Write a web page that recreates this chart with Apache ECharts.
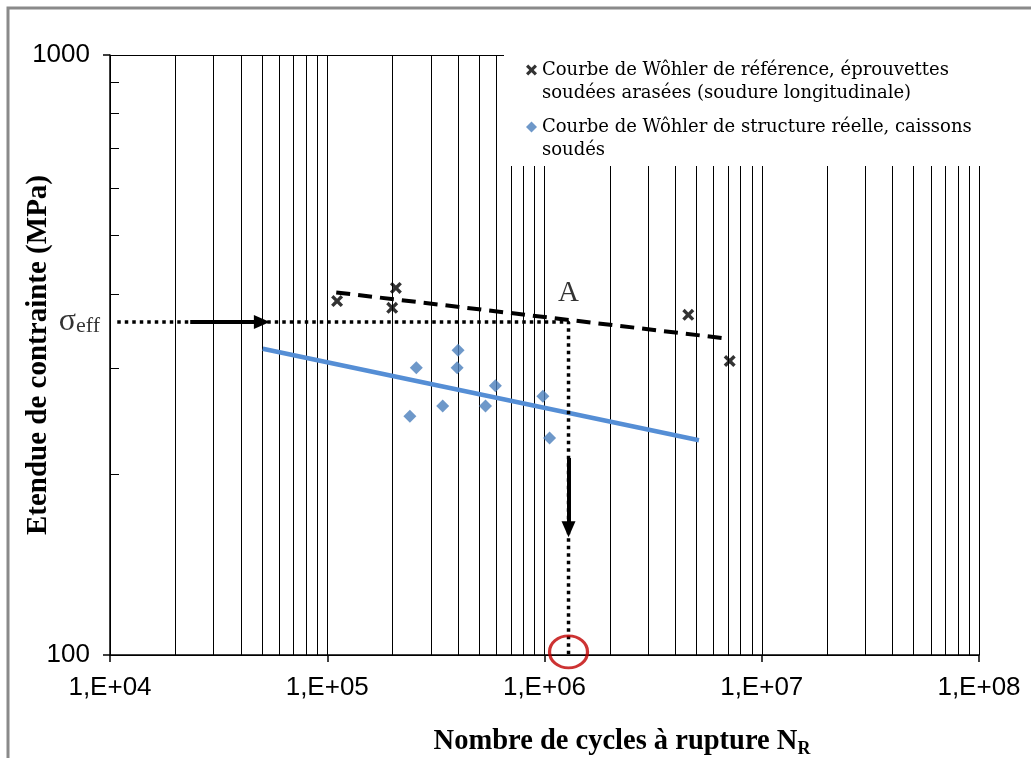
<!DOCTYPE html>
<html><head><meta charset="utf-8">
<script src="https://cdn.jsdelivr.net/npm/echarts@6/dist/echarts.min.js"></script>
<style>html,body{margin:0;padding:0;background:#fff}#c{width:1031px;height:758px}</style>
</head><body><div id="c"></div>
<script>
// ---- data ----
const refLabel = 'Courbe de Wôhler de référence, éprouvettes\nsoudées arasées (soudure longitudinale)';
const realLabel = 'Courbe de Wôhler de structure réelle, caissons\nsoudés';
const refN = [1.11e5, 2.07e5, 1.99e5, 4.59e6, 7.12e6];
const refS = [389, 409, 379, 369, 309];
const refFitN = [1.10e5, 6.82e6];
const refFitS = [402, 337];
const realN = [2.57e5, 4.0e5, 3.96e5, 5.94e5, 9.83e5, 3.40e5, 5.35e5, 2.40e5, 1.055e6];
const realS = [301, 322, 301, 281, 270, 260, 260, 250, 230];
const realFitN = [5.05e4, 5.14e6];
const realFitS = [324, 228];
const sigmaEff = 359;
const pointAN = 1.29e6;
const dottedStartN = 1.08e4;
const arrowHN = [2.34e4, 5.0e4];
const arrowVS = [213, 162];
const circleS = 101.2;
const xMin = 1e4, xMax = 1e8, yMin = 100, yMax = 1000;

const zip = (a, b) => a.map((v, i) => [v, b[i]]);
const serif = 'Liberation Serif';
const sans = 'Liberation Sans';
const xSymbol = 'path://M0,2 L2,0 L5,3 L8,0 L10,2 L7,5 L10,8 L8,10 L5,7 L2,10 L0,8 L3,5 Z';

const chart = echarts.init(document.getElementById('c'), null, {renderer: 'canvas'});
const legendText = {fontFamily: 'DejaVu Serif', fontSize: 18, lineHeight: 23, color: '#000'};
const legendFmt = name => '\n' + name;

const option = {
  animation: false,
  backgroundColor: '#fff',
  grid: {left: 110, right: 52, top: 55, bottom: 103, containLabel: false, outerBoundsMode: 'none'},
  legend: [
    {data: [{name: refLabel, icon: xSymbol}], left: 526, top: 35.5, padding: 0, itemWidth: 11, itemHeight: 11,
     selectedMode: false, textStyle: legendText, formatter: legendFmt, z: 20},
    {data: [{name: realLabel, icon: 'diamond'}], left: 526, top: 92.5, padding: 0, itemWidth: 11, itemHeight: 11,
     selectedMode: false, textStyle: legendText, formatter: legendFmt, z: 20}
  ],
  graphic: [
    {type: 'rect', shape: {x: 504, y: 20, width: 527, height: 146}, style: {fill: '#fff'}, z: 10, silent: true},
    {type: 'polyline', shape: {points: [[8, 758], [8, 8], [1031, 8]]}, style: {stroke: '#8a8a8a', lineWidth: 3, fill: null}, z: 10, silent: true}
  ],
  xAxis: {
    type: 'log', logBase: 10, min: xMin, max: xMax,
    name: '{a|Nombre de cycles à rupture N}{b|R}', nameLocation: 'middle', nameGap: 71, nameMoveOverlap: false,
    nameTextStyle: {padding: [0, 0, 0, 155], rich: {
      a: {fontFamily: serif, fontWeight: 'bold', fontSize: 28.5, color: '#000'},
      b: {fontFamily: serif, fontWeight: 'bold', fontSize: 18, color: '#000', padding: [14, 0, 0, 0]}}},
    axisLine: {show: true, onZero: false, lineStyle: {color: '#000', width: 1.5}},
    axisTick: {show: true, length: 7, lineStyle: {color: '#000', width: 1.5}},
    axisLabel: {fontFamily: sans, fontSize: 26, color: '#000', margin: 20,
      formatter: v => '1,E+' + String(Math.round(Math.log10(v))).padStart(2, '0')},
    splitLine: {show: true, lineStyle: {color: '#000', width: 1}},
    minorTick: {show: false, splitNumber: 9},
    minorSplitLine: {show: true, lineStyle: {color: '#000', width: 1}}
  },
  yAxis: {
    type: 'log', logBase: 10, min: yMin, max: yMax,
    name: 'Etendue de contrainte (MPa)', nameLocation: 'middle', nameGap: 45, nameMoveOverlap: false,
    nameTextStyle: {fontFamily: serif, fontWeight: 'bold', fontSize: 29, color: '#000', padding: [0, 0, 12, 0]},
    axisLine: {show: true, onZero: false, lineStyle: {color: '#000', width: 1.5}},
    axisTick: {show: true, length: 7, lineStyle: {color: '#000', width: 1.5}},
    minorTick: {show: true, splitNumber: 9, length: -9, lineStyle: {color: '#000', width: 1}},
    axisLabel: {fontFamily: sans, fontSize: 26, color: '#000', margin: 20, formatter: v => String(Math.round(v))},
    splitLine: {show: true, lineStyle: {color: '#000', width: 1}},
    minorSplitLine: {show: false}
  },
  series: [
    {name: 'refFit', type: 'line', data: zip(refFitN, refFitS), symbol: 'none', z: 4,
     lineStyle: {color: '#000', width: 4, type: [14, 8]}},
    {name: 'realFit', type: 'line', data: zip(realFitN, realFitS), symbol: 'none', z: 4,
     lineStyle: {color: '#558ed5', width: 4.5}},
    {name: refLabel, type: 'scatter', data: zip(refN, refS), symbol: xSymbol, symbolSize: 12, z: 6,
     itemStyle: {color: '#000'}},
    {name: realLabel, type: 'scatter', data: zip(realN, realS), symbol: 'diamond', symbolSize: 13, z: 6,
     itemStyle: {color: '#4a7ebb'}},
    {name: 'guide', type: 'line', symbol: 'none', z: 5, silent: true,
     data: [[dottedStartN, sigmaEff], [pointAN, sigmaEff], [pointAN, yMin]],
     lineStyle: {color: '#000', width: 3.5, type: [3.5, 4]},
     markLine: {silent: true, symbol: ['none', 'triangle'], symbolSize: [14, 16], animation: false,
       label: {show: false}, lineStyle: {color: '#000', width: 4, type: 'solid'},
       data: [
         [{coord: [arrowHN[0], sigmaEff]}, {coord: [arrowHN[1], sigmaEff]}],
         [{coord: [pointAN, arrowVS[0]]}, {coord: [pointAN, arrowVS[1]]}]
       ]}},
    {name: 'labels', type: 'scatter', symbolSize: 0, clip: false, silent: true, z: 7,
     data: [
       {value: [xMin, sigmaEff], label: {show: true, position: 'left', distance: 10, formatter: '{s|σ}{e|eff}',
         rich: {s: {fontFamily: serif, fontSize: 32, color: '#000'}, e: {fontFamily: serif, fontSize: 22, color: '#000', padding: [8, 0, 0, 0]}}}},
       {value: [pointAN, sigmaEff], label: {show: true, position: 'top', distance: 14, formatter: 'A',
         fontFamily: serif, fontSize: 29, color: '#000'}}
     ]},
    {name: 'circle', type: 'scatter', clip: false, silent: true, z: 8,
     data: [[pointAN, circleS]], symbol: 'circle', symbolSize: [38, 32],
     itemStyle: {color: 'rgba(0,0,0,0)', borderColor: '#c00000', borderWidth: 3}}
  ]
};
chart.setOption(option);
</script>
</body></html>
